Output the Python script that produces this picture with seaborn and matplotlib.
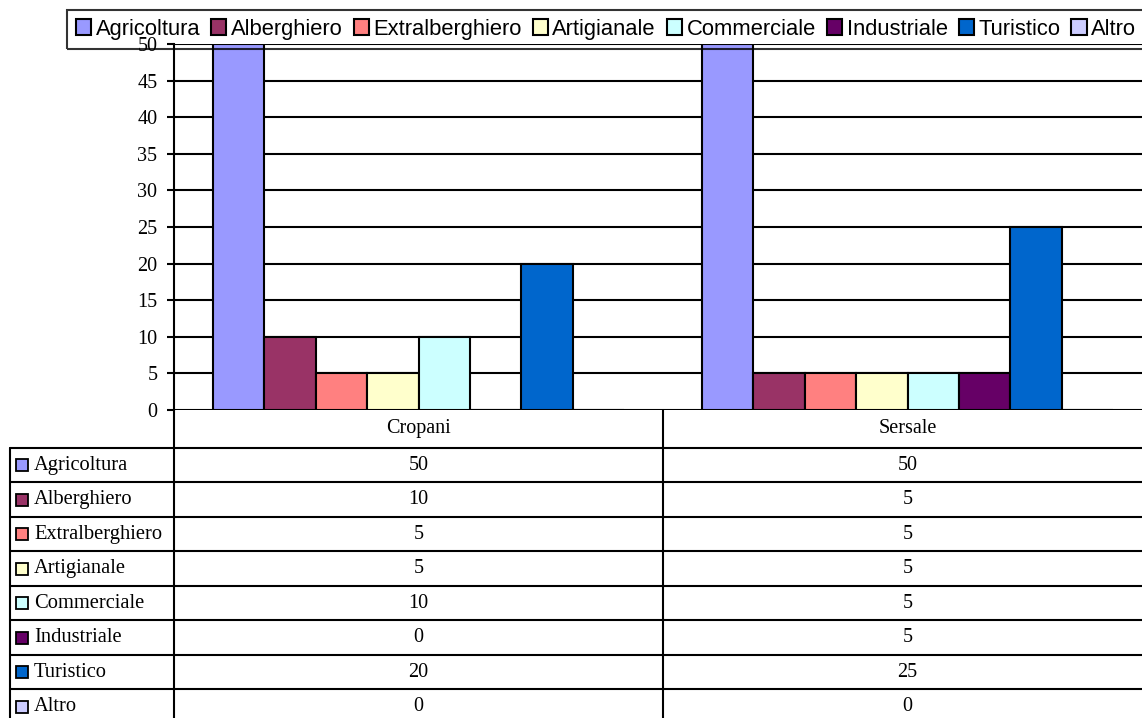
import pandas as pd
import seaborn as sns
import matplotlib.pyplot as plt
from matplotlib.patches import Patch

comuni = ['Cropani', 'Sersale']
settori = ['Agricoltura', 'Alberghiero', 'Extralberghiero', 'Artigianale',
           'Commerciale', 'Industriale', 'Turistico', 'Altro']
cropani = [50, 10, 5, 5, 10, 0, 20, 0]
sersale = [50, 5, 5, 5, 5, 5, 25, 0]
colori = ['#9999FF', '#993366', '#FF8080', '#FFFFCC',
          '#CCFFFF', '#660066', '#0066CC', '#CCCCFF']

df = pd.DataFrame({
    'Comune': [c for c in comuni for _ in settori],
    'Settore': settori * 2,
    'Valore': cropani + sersale,
})

sns.set_theme(style='white')
plt.rcParams['font.family'] = ['Liberation Serif', 'DejaVu Serif']
plt.rcParams['text.color'] = 'black'

W, H = 1142, 718
fig = plt.figure(figsize=(W / 100, H / 100), dpi=100)

# chart area in pixel terms
x0, x1 = 174, 1152
y_top, y_bot = 44, 410
ax = fig.add_axes([x0 / W, (H - y_bot) / H, (x1 - x0) / W, (y_bot - y_top) / H])

sns.barplot(data=df, x='Comune', y='Valore', hue='Settore', order=comuni,
            hue_order=settori, palette=colori, width=0.842, edgecolor='black',
            linewidth=1.5, saturation=1, legend=False, ax=ax)

ax.set_ylim(0, 50)
ax.set_xlim(-0.5, 1.5)
ax.set_yticks(range(0, 51, 5))
ax.yaxis.grid(True, color='black', linewidth=1.5)
ax.set_axisbelow(True)
for s in ['top', 'right', 'bottom']:
    ax.spines[s].set_visible(False)
ax.spines['left'].set_color('black')
ax.spines['left'].set_linewidth(1.5)
ax.tick_params(axis='y', left=True, length=5, width=1.5, color='black',
               labelsize=14.5, pad=7, labelcolor='black')
ax.set_xticks([])
ax.set_xlabel('')
ax.set_ylabel('')
ax.set_facecolor('white')

# legend across the top (transparent box, as in the original)
handles = [Patch(facecolor=c, edgecolor='black', linewidth=1.5, label=s)
           for c, s in zip(colori, settori)]
leg = fig.legend(handles=handles, loc='upper left', bbox_to_anchor=(67 / W, 1 - 10 / H),
                 ncol=8, frameon=True, fancybox=False,
                 prop={'family': 'Liberation Sans', 'size': 15.8},
                 handlelength=0.7, handleheight=0.7, handletextpad=0.2,
                 columnspacing=0.5, borderpad=0.4, borderaxespad=0)
leg.get_frame().set_edgecolor('black')
leg.get_frame().set_facecolor('none')
leg.get_frame().set_linewidth(1.5)
for t in leg.get_texts():
    t.set_color('black')

# data table below the chart
tab = fig.add_axes([0, 0, 1, (H - y_bot) / H])
tab.set_xlim(0, W)
tab.set_ylim(H, y_bot)
tab.axis('off')
lw = 1.5
col_w = (x1 - x0) / len(comuni)
head_b = 448
row_h = 34.5
n = len(settori)

tab.plot([x0, x0], [y_bot, H], color='black', lw=lw, clip_on=False)
tab.plot([10, 10], [head_b, H], color='black', lw=lw, clip_on=False)
for i in range(1, len(comuni) + 1):
    xc = x0 + col_w * i
    tab.plot([xc, xc], [y_bot, H], color='black', lw=lw, clip_on=False)
for r in range(n):
    yy = head_b + row_h * r
    tab.plot([10, x1], [yy, yy], color='black', lw=lw, clip_on=False)

for i, c in enumerate(comuni):
    tab.text(x0 + col_w * (i + 0.5), (y_bot + head_b) / 2, c, ha='center',
             va='center', fontsize=14.5, color='black')

for r, (s, col) in enumerate(zip(settori, colori)):
    yc = head_b + row_h * (r + 0.5)
    tab.plot([22], [yc], marker='s', markersize=8, markerfacecolor=col,
             markeredgecolor='black', markeredgewidth=1.3, clip_on=False)
    tab.text(34, yc, s, ha='left', va='center', fontsize=14.8, color='black')
    for i, vals in enumerate([cropani, sersale]):
        tab.text(x0 + col_w * (i + 0.5), yc, str(vals[r]), ha='center',
                 va='center', fontsize=14.5, color='black')

fig.savefig('out.png', dpi=100, facecolor='white')
